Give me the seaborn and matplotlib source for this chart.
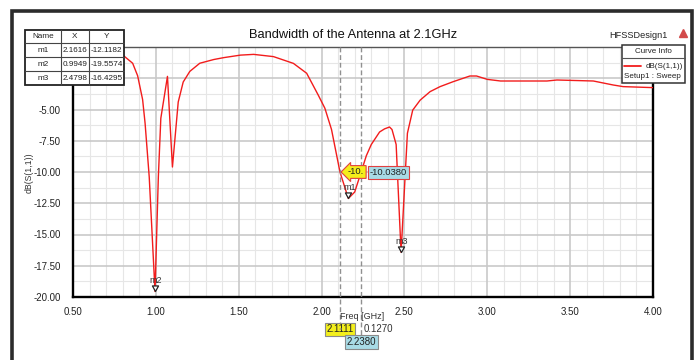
import numpy as np
import pandas as pd
import matplotlib
matplotlib.use("Agg")
import matplotlib.pyplot as plt
import matplotlib.transforms as mtransforms
from matplotlib.patches import Rectangle
from matplotlib.lines import Line2D
from matplotlib.path import Path
from matplotlib.ticker import MultipleLocator, FormatStrFormatter, FuncFormatter
import seaborn as sns

# Return loss sweep, dB(S(1,1)) vs frequency
freq_ghz = [0.50, 0.60, 0.70, 0.76, 0.81, 0.86, 0.89, 0.92, 0.935, 0.96,
            0.9949, 1.015, 1.03, 1.07, 1.10, 1.135, 1.165, 1.205, 1.265, 1.35,
            1.41, 1.51, 1.59, 1.71, 1.83, 1.91, 1.98, 2.02, 2.06, 2.1111,
            2.1616, 2.20, 2.238, 2.27, 2.30, 2.35, 2.38, 2.41, 2.425, 2.45,
            2.4798, 2.518, 2.55, 2.595, 2.655, 2.715, 2.795, 2.895, 2.935, 3.00,
            3.08, 3.36, 3.42, 3.64, 3.76, 3.82, 4.00]
s11_db = [-0.10, -0.18, -0.32, -0.48, -0.75, -1.30, -2.30, -4.20, -6.10, -10.40,
          -19.5574, -10.40, -5.70, -2.35, -9.60, -4.40, -2.80, -1.95, -1.30, -1.00,
          -0.85, -0.65, -0.59, -0.77, -1.31, -2.10, -3.85, -4.90, -6.60, -10.00,
          -12.1182, -11.60, -10.038, -8.70, -7.80, -6.80, -6.55, -6.40, -6.60, -7.80,
          -16.4295, -6.90, -5.05, -4.25, -3.57, -3.17, -2.77, -2.32, -2.32, -2.59,
          -2.72, -2.72, -2.64, -2.72, -3.04, -3.17, -3.25]

# Named markers
marker_names = ["m1", "m2", "m3"]
marker_x = [2.1616, 0.9949, 2.4798]
marker_y = [-12.1182, -19.5574, -16.4295]

# Delta markers (-10 dB bandwidth)
delta_x = [2.1111, 2.2380]
delta_y = [-10.0000, -10.0380]
delta_dx = 0.1270

title_text = "Bandwidth of the Antenna at 2.1GHz"
design_name = "HFSSDesign1"
trace_name = "dB(S(1,1))"
sweep_name = "Setup1 : Sweep"
x_label = "Freq [GHz]"
y_label = "dB(S(1,1))"

sns.set_style("white")
plt.rcParams["font.family"] = ["Liberation Sans", "DejaVu Sans"]

W, H = 699, 360
fig = plt.figure(figsize=(W / 100, H / 100), dpi=100)


def fx(px):
    return px / W


def fy(py):
    return 1 - py / H


ax = fig.add_axes([fx(73), fy(297), 580 / W, 250 / H])
ax.set_axisbelow(True)

df = pd.DataFrame({"freq": freq_ghz, "db": s11_db})
sns.lineplot(data=df, x="freq", y="db", ax=ax, color="#f21c1c", linewidth=1.0,
             estimator=None, sort=False, legend=False, zorder=3)

ax.set_xlim(0.5, 4.0)
ax.set_ylim(-20, 0)
ax.set_xlabel("")
ax.set_ylabel("")
ax.xaxis.set_major_locator(MultipleLocator(0.5))
ax.xaxis.set_minor_locator(MultipleLocator(0.1))
ax.yaxis.set_major_locator(MultipleLocator(2.5))
ax.yaxis.set_minor_locator(MultipleLocator(0.5))
ax.xaxis.set_major_formatter(FormatStrFormatter("%.2f"))
# the two top labels sit under the marker table
ax.yaxis.set_major_formatter(FuncFormatter(lambda v, p: "" if v > -4 else f"{v:.2f}"))
ax.tick_params(which="major", direction="out", length=5, width=1.0,
               labelsize=7, labelcolor="#222222", pad=2)
ax.tick_params(axis="y", which="major", length=7)
ax.tick_params(which="minor", direction="out", length=2.5, width=0.9)
ax.tick_params(axis="y", which="minor", length=3.5)

# grid: major lines, x minor lines, y half-step lines
ax.grid(which="major", color="#c9c9c9", linewidth=1.2)
ax.grid(which="minor", axis="x", color="#e6e6e6", linewidth=0.8)
for lev in np.arange(-18.75, 0, 2.5):
    ax.axhline(lev, color="#e6e6e6", linewidth=0.8, zorder=0.5)

for side in ["left", "bottom", "right"]:
    ax.spines[side].set_color("black")
    ax.spines[side].set_linewidth(1.7)
ax.spines["top"].set_color("#555555")
ax.spines["top"].set_linewidth(1.0)

# named markers: hollow triangles with tip on the trace
tri = Path([(-0.55, 1.0), (0.55, 1.0), (0.0, 0.0), (-0.55, 1.0)],
           [Path.MOVETO, Path.LINETO, Path.LINETO, Path.CLOSEPOLY])
ax.plot(marker_x, marker_y, ls="none", marker=tri, markersize=8,
        mfc="white", mec="#222222", mew=0.9, zorder=5)
for name, mx, my in zip(marker_names, marker_x, marker_y):
    ax.annotate(name, (mx, my), xytext=(1, 6), textcoords="offset pixels",
                ha="center", va="bottom", fontsize=6.5, color="#333333", zorder=6)

# delta markers: dashed lines running below the axis
blend = mtransforms.blended_transform_factory(ax.transData, ax.transAxes)
line_ends = [-0.104, -0.156]
for dx, yb in zip(delta_x, line_ends):
    ax.plot([dx, dx], [1.0, yb], transform=blend, clip_on=False,
            color="#909090", linewidth=1.0, linestyle=(0, (3.5, 2)), zorder=4)

ax.text(delta_x[0], -0.13, f"{delta_x[0]:.4f}", transform=blend, ha="center",
        va="center", fontsize=7, color="#222222", clip_on=False,
        bbox=dict(boxstyle="square,pad=0.18", fc="#f3ef1c", ec="#8a8a8a", lw=0.8))
ax.text(delta_x[1], -0.18, f"{delta_x[1]:.4f}", transform=blend, ha="center",
        va="center", fontsize=7, color="#222222", clip_on=False,
        bbox=dict(boxstyle="square,pad=0.18", fc="#a8dbe6", ec="#8a8a8a", lw=0.8))
ax.annotate("", xy=(delta_x[0], -0.128), xycoords=blend,
            xytext=(delta_x[1], -0.128), textcoords=blend,
            arrowprops=dict(arrowstyle="-", color="#8a8a8a", lw=0.8,
                            shrinkA=14, shrinkB=0))
ax.annotate(f"{delta_dx:.4f}", xy=(delta_x[1], -0.128), xycoords=blend,
            xytext=(3, 0), textcoords="offset pixels", ha="left", va="center",
            fontsize=7, color="#333333", annotation_clip=False)

# value flags at the delta points; the second flag covers the tail of the first
ax.annotate(f"{delta_y[0]:.1f}"[:4], (delta_x[0], delta_y[0]), xytext=(8, 0),
            textcoords="offset pixels", ha="left", va="center", fontsize=6.8,
            color="#222222", zorder=7,
            bbox=dict(boxstyle="larrow,pad=0.2", fc="#f5ee1a", ec="#e04040", lw=0.8))
ax.annotate(f"{delta_y[1]:.4f}", (delta_x[1], delta_y[1]), xytext=(9, 0),
            textcoords="offset pixels", ha="left", va="center", fontsize=6.8,
            color="#222222", zorder=8,
            bbox=dict(boxstyle="square,pad=0.2", fc="#a8dbe6", ec="#e04040", lw=0.8))

# outer window frame
fig.add_artist(Rectangle((fx(12), -0.1), (692 - 12) / W, fy(11) + 0.1,
                         transform=fig.transFigure, fill=False,
                         edgecolor="#2b2b2b", linewidth=2.6))

# titles and axis labels
fig.text(fx(353.5), fy(35), title_text, ha="center", va="center",
         fontsize=9.3, color="#111111")
fig.text(fx(638), fy(35), design_name, ha="center", va="center",
         fontsize=6.6, color="#222222")
fig.add_artist(Line2D([fx(683)], [fy(33)], marker="^", markersize=6,
                      color="#d24a4a", transform=fig.transFigure))
fig.text(fx(29), fy(173), y_label, rotation=90, ha="center", va="center",
         fontsize=6.3, color="#333333")
fig.text(fx(362), fy(316.5), x_label, ha="center", va="center",
         fontsize=6.5, color="#333333")

# curve info box
fig.add_artist(Rectangle((fx(622), fy(83)), 63 / W, 38 / H,
                         transform=fig.transFigure, fc="white",
                         ec="#333333", lw=1.1, zorder=10))
fig.add_artist(Line2D([fx(622), fx(685)], [fy(58), fy(58)],
                      color="#555555", lw=0.8, transform=fig.transFigure, zorder=11))
fig.text(fx(653.5), fy(51.5), "Curve Info", ha="center", va="center",
         fontsize=5.8, color="#222222", zorder=12)
fig.add_artist(Line2D([fx(624), fx(641)], [fy(65.7), fy(65.7)], color="#f21c1c",
                      lw=1.3, transform=fig.transFigure, zorder=12))
fig.text(fx(664), fy(66), trace_name, ha="center", va="center",
         fontsize=5.8, color="#222222", zorder=12)
fig.text(fx(652.5), fy(77), sweep_name, ha="center", va="center",
         fontsize=5.8, color="#222222", zorder=12)

# marker table
tab_cols = [25, 61, 89, 124]
tab_rows = [29.5, 43.3, 57.3, 71.3, 85.3]
fig.add_artist(Rectangle((fx(25), fy(85.3)), (124 - 25) / W, (85.3 - 29.5) / H,
                         transform=fig.transFigure, fc="white", ec="#222222",
                         lw=1.3, zorder=10))
for cx in tab_cols[1:-1]:
    fig.add_artist(Line2D([fx(cx), fx(cx)], [fy(29.5), fy(85.3)], color="#444444",
                          lw=0.8, transform=fig.transFigure, zorder=11))
for ry in tab_rows[1:-1]:
    fig.add_artist(Line2D([fx(25), fx(124)], [fy(ry), fy(ry)], color="#444444",
                          lw=0.8, transform=fig.transFigure, zorder=11))
table_rows = [["Name", "X", "Y"]] + [
    [n, f"{x:.4f}", f"{y:.4f}"] for n, x, y in zip(marker_names, marker_x, marker_y)
]
for r, row in enumerate(table_rows):
    yc = (tab_rows[r] + tab_rows[r + 1]) / 2
    for c, cell in enumerate(row):
        xc = (tab_cols[c] + tab_cols[c + 1]) / 2
        fig.text(fx(xc), fy(yc), cell, ha="center", va="center",
                 fontsize=5.9, color="#222222", zorder=12)

fig.savefig("out.png", dpi=100)
